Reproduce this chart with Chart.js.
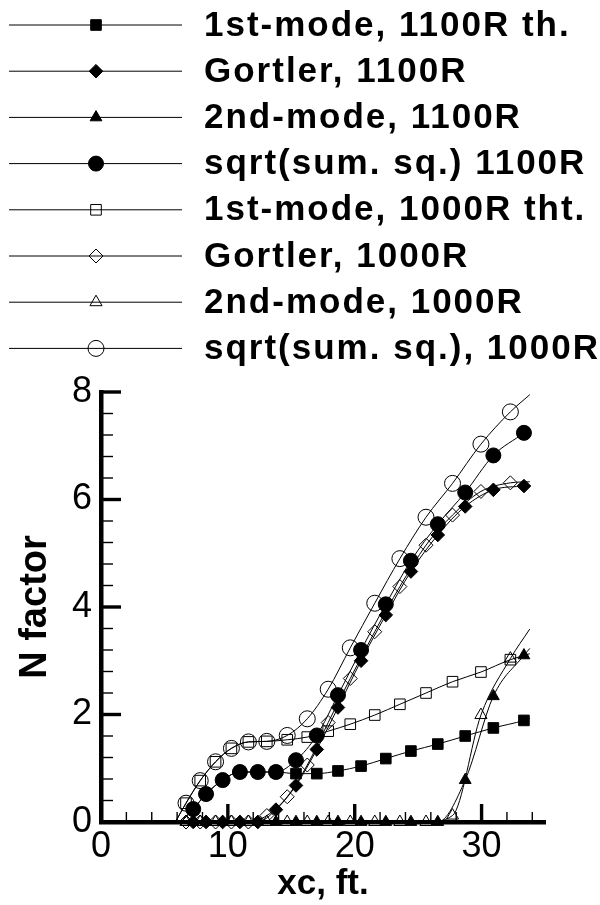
<!DOCTYPE html>
<html>
<head>
<meta charset="utf-8">
<script src="https://cdn.jsdelivr.net/npm/chart.js@4"></script>
<style>
  html, body { margin: 0; padding: 0; background: #fff; }
</style>
</head>
<body>
<canvas id="nfactor-chart" width="600" height="905"></canvas>
<script>
// stations (ft) along the cone, 1100R and 1000R runs
const xc1100 = [6.3, 7.27, 8.28, 9.59, 10.95, 12.36, 13.79, 15.37, 17.01, 18.68, 20.5, 22.45, 24.43, 26.55, 28.71, 30.93, 33.34, 33.8];
const xc1000 = [5.86, 6.7, 7.82, 9.03, 10.28, 11.62, 13.07, 14.68, 16.26, 17.91, 19.65, 21.58, 23.56, 25.62, 27.71, 29.95, 32.27, 33.8];

// N factors
const firstMode1100 = [0, 0.24, 0.52, 0.78, 0.93, 0.93, 0.93, 0.9, 0.9, 0.95, 1.04, 1.18, 1.32, 1.45, 1.6, 1.75, 1.89, 1.93];
const gortler1100 = [0, 0, 0, 0, 0, 0, 0.23, 0.68, 1.35, 2.13, 3.0, 3.85, 4.66, 5.34, 5.87, 6.18, 6.25, 6.26];
const secondMode1100 = [0, 0, 0, 0, 0, 0, 0, 0, 0, 0, 0, 0, 0, 0, 0.78, 2.34, 3.1, 3.23];
const sqrtSum1100 = [0, 0.24, 0.52, 0.78, 0.93, 0.93, 0.93, 1.15, 1.61, 2.36, 3.2, 4.05, 4.86, 5.54, 6.13, 6.82, 7.24, 7.33];

const firstMode1000 = [0, 0.35, 0.77, 1.12, 1.37, 1.49, 1.5, 1.53, 1.58, 1.69, 1.82, 1.99, 2.19, 2.4, 2.61, 2.79, 3.02, 3.13];
const gortler1000 = [0, 0, 0, 0, 0, 0, 0.12, 0.47, 1.06, 1.85, 2.67, 3.54, 4.38, 5.15, 5.71, 6.15, 6.31, 6.33];
const secondMode1000 = [0, 0, 0, 0, 0, 0, 0, 0, 0, 0, 0, 0, 0, 0, 0.12, 1.99, 3.04, 3.59];
const sqrtSum1000 = [0, 0.35, 0.77, 1.12, 1.37, 1.49, 1.5, 1.61, 1.92, 2.47, 3.24, 4.07, 4.9, 5.67, 6.3, 7.03, 7.63, 7.95];

const xTicks = [0, 10, 20, 30];
const yTicks = [0, 2, 4, 6, 8];

const FONT = '"Liberation Sans", Arial, Helvetica, sans-serif';
Chart.defaults.font.family = FONT;
Chart.defaults.color = "#000";

const series = [
  { label: "1st-mode, 1100R th.", xs: xc1100, ys: firstMode1100, style: "rect", filled: true, r: 7.5 },
  { label: "Gortler, 1100R", xs: xc1100, ys: gortler1100, style: "rectRot", filled: true, r: 6.8 },
  { label: "2nd-mode, 1100R", xs: xc1100, ys: secondMode1100, style: "triangle", filled: true, r: 6.8 },
  { label: "sqrt(sum. sq.) 1100R", xs: xc1100, ys: sqrtSum1100, style: "circle", filled: true, r: 7.5 },
  { label: "1st-mode, 1000R tht.", xs: xc1000, ys: firstMode1000, style: "rect", filled: false, r: 7.5 },
  { label: "Gortler, 1000R", xs: xc1000, ys: gortler1000, style: "rectRot", filled: false, r: 7 },
  { label: "2nd-mode, 1000R", xs: xc1000, ys: secondMode1000, style: "triangle", filled: false, r: 7 },
  { label: "sqrt(sum. sq.), 1000R", xs: xc1000, ys: sqrtSum1000, style: "circle", filled: false, r: 8 },
];

// first and last stations only carry the line, no symbol
const datasets = series.map((s) => ({
  label: s.label,
  data: s.xs.map((x, i) => ({ x, y: s.ys[i] })),
  borderColor: "#000",
  borderWidth: 1,
  pointStyle: s.style,
  pointRadius: s.xs.map((x, i) => (i === 0 || i === s.xs.length - 1 ? 0 : s.r)),
  pointBackgroundColor: s.filled ? "#000" : "rgba(0,0,0,0)",
  pointBorderColor: "#000",
  pointBorderWidth: 1,
  markerRadius: s.r,
  cubicInterpolationMode: "monotone",
  clip: false,
}));

// inward major/minor tick marks
const inwardTicks = {
  id: "inwardTicks",
  beforeDatasetsDraw(chart) {
    const { ctx, scales } = chart;
    const xs = scales.x;
    const ys = scales.y;
    const axisY = ys.getPixelForValue(0);
    const axisX = xs.getPixelForValue(0);
    ctx.save();
    ctx.strokeStyle = "#000";
    for (let i = 1; i <= 17; i++) {
      const v = i * 2;
      const major = v % 10 === 0;
      const px = xs.getPixelForValue(v);
      ctx.lineWidth = major ? 3.4 : 1.4;
      ctx.beginPath();
      ctx.moveTo(px, axisY);
      ctx.lineTo(px, axisY - (major ? 18 : 10));
      ctx.stroke();
    }
    for (let i = 1; i <= 20; i++) {
      const v = i * 0.4;
      const major = i % 5 === 0;
      const py = ys.getPixelForValue(v);
      ctx.lineWidth = major ? 3.4 : 1.4;
      ctx.beginPath();
      ctx.moveTo(axisX, py);
      ctx.lineTo(axisX + (major ? 20 : 12), py);
      ctx.stroke();
    }
    ctx.restore();
  },
};

// legend block: line with centred symbol, label to the right
const lineLegend = {
  id: "lineLegend",
  afterDraw(chart) {
    const ctx = chart.ctx;
    chart.data.datasets.forEach((ds, i) => {
      const y = 25 + i * 46.2;
      ctx.save();
      ctx.strokeStyle = ds.borderColor;
      ctx.lineWidth = 1;
      ctx.beginPath();
      ctx.moveTo(9, y);
      ctx.lineTo(182, y);
      ctx.stroke();
      ctx.fillStyle = ds.pointBackgroundColor;
      ctx.strokeStyle = ds.pointBorderColor;
      ctx.lineWidth = ds.pointBorderWidth;
      Chart.helpers.drawPoint(ctx, { pointStyle: ds.pointStyle, radius: ds.markerRadius, borderWidth: 1, rotation: 0 }, 96, y);
      ctx.fillStyle = "#000";
      ctx.font = "bold 35px " + FONT;
      ctx.letterSpacing = "2px";
      ctx.textAlign = "left";
      ctx.textBaseline = "middle";
      ctx.fillText(ds.label, 204, y + 1);
      ctx.restore();
    });
  },
};

new Chart(document.getElementById("nfactor-chart"), {
  type: "line",
  data: { datasets },
  options: {
    responsive: false,
    animation: false,
    layout: { padding: { top: 392, right: 55, left: 0, bottom: 0 } },
    plugins: { legend: { display: false }, tooltip: { enabled: false } },
    scales: {
      x: {
        type: "linear",
        min: 0,
        max: 35,
        afterFit: (scale) => { scale.height = 83; },
        afterBuildTicks: (scale) => { scale.ticks = xTicks.map((v) => ({ value: v })); },
        grid: { display: false, drawTicks: false },
        border: { display: true, color: "#000", width: 4.5 },
        ticks: { font: { size: 36 }, color: "#000", padding: 3, maxRotation: 0 },
        title: { display: true, text: "xc, ft.", font: { size: 35, weight: "bold" }, color: "#000", padding: { top: 0, bottom: 0 } },
      },
      y: {
        min: 0,
        max: 8,
        afterFit: (scale) => { scale.width = 101; },
        afterBuildTicks: (scale) => { scale.ticks = yTicks.map((v) => ({ value: v })); },
        grid: { display: false, drawTicks: false },
        border: { display: true, color: "#000", width: 4.5 },
        ticks: { font: { size: 36 }, color: "#000", padding: 9 },
        title: { display: true, text: "N factor", font: { size: 38, weight: "bold" }, color: "#000", padding: { top: 13, bottom: 0 } },
      },
    },
  },
  plugins: [inwardTicks, lineLegend],
});
</script>
</body>
</html>
